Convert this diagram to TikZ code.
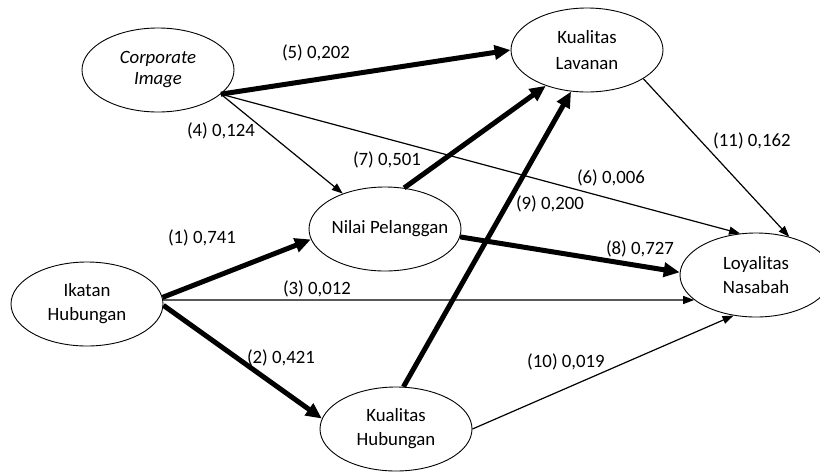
\documentclass[tikz,border=0pt]{standalone}
\usepackage{fontspec}
\setmainfont{Carlito}
\usetikzlibrary{shapes.geometric,arrows.meta}
\begin{document}
\begin{tikzpicture}[x=1pt,y=-1pt,
  var/.style={ellipse, draw, line width=0.9pt, inner sep=0pt,
    minimum width=152pt, minimum height=84pt, align=center,
    font=\fontsize{18.8}{24}\selectfont},
  weak/.style={line width=1.2pt, -{Triangle[length=11pt,width=8pt]}},
  strong/.style={line width=5pt, -{Triangle[length=16pt,width=14pt]}},
  lbl/.style={font=\fontsize{18.8}{22}\selectfont, inner sep=0pt}
]
\useasboundingbox (0,0) rectangle (820,472);
% variables
\node[var, font=\fontsize{18.8}{21}\selectfont\itshape] (ci) at (158,70) {Corporate\\Image};
\node[var, font=\fontsize{18.8}{26}\selectfont] (kl) at (587,50) {Kualitas\\Lavanan};
\node[var] (np) at (385,229) {\makebox[0pt]{\hspace{10pt}Nilai Pelanggan}};
\node[var] (ih) at (87,304) {Ikatan\\Hubungan};
\node[var] (kh) at (396,429) {Kualitas\\Hubungan};
\node[var] (ln) at (756,275) {Loyalitas\\Nasabah};
% paths
\draw[strong] (ci.-21) -- (kl.180);
\draw[weak] (ci.-21) -- (np.140);
\draw[weak] (ci.-21) -- (ln.111);
\draw[strong] (np.65) -- (kl.221);
\draw[strong] (kh.80) -- (kl.249);
\draw[weak] (kl.-27) -- (ln.49);
\draw[strong] (ih.5) -- (np.188);
\draw[weak] (ih.3) -- (ln.202.6);
\draw[strong] (ih.-1) -- (kh.172);
\draw[strong] (np.-6) -- (ln.178);
\draw[weak] (kh.0) -- (ln.241);
% coefficients
\node[lbl] (l1) at (202,238) {(1) 0,741};
\node[lbl] (l2) at (281,358) {(2) 0,421};
\node[lbl] (l3) at (317,289) {(3) 0,012};
\node[lbl] (l4) at (221,131) {(4) 0,124};
\node[lbl] (l5) at (316,53) {(5) 0,202};
\node[lbl] (l6) at (611,178) {(6) 0,006};
\node[lbl] (l7) at (387,160) {(7) 0,501};
\node[lbl] (l8) at (640,249) {(8) 0,727};
\node[lbl] (l9) at (550,204) {(9) 0,200};
\node[lbl] (l10) at (566,362) {(10) 0,019};
\node[lbl] (l11) at (752,141) {(11) 0,162};
\end{tikzpicture}
\end{document}
